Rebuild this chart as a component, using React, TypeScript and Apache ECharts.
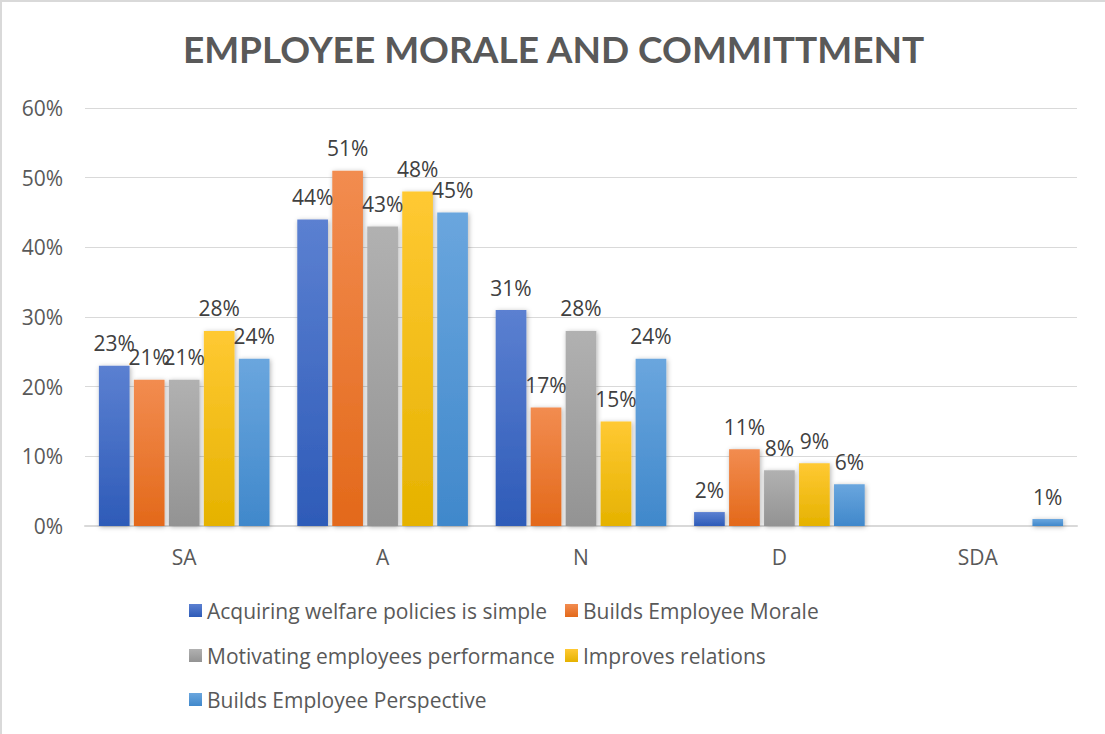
import React, { useEffect, useRef } from "react";
import * as echarts from "echarts";

const categories = ["SA", "A", "N", "D", "SDA"];
const seriesNames = [
  "Acquiring welfare policies is simple",
  "Builds Employee Morale",
  "Motivating employees performance",
  "Improves relations",
  "Builds Employee Perspective",
];
const acquiring = [23, 44, 31, 2, null];
const morale = [21, 51, 17, 11, null];
const motivating = [21, 43, 28, 8, null];
const relations = [28, 48, 15, 9, null];
const perspective = [24, 45, 24, 6, 1];
const yTicks = [0, 10, 20, 30, 40, 50, 60];

const seriesValues = [acquiring, morale, motivating, relations, perspective];
const gradients: [string, string][] = [
  ["#5b80d1", "#2e5bb8"],
  ["#f28c50", "#e3691a"],
  ["#b1b1b1", "#939393"],
  ["#ffc933", "#e5b200"],
  ["#6aa6de", "#4088cb"],
];
const legendPos = [
  { left: 187, top: 598 },
  { left: 563, top: 598 },
  { left: 187, top: 643 },
  { left: 563, top: 643 },
  { left: 187, top: 687 },
];

const FONT = "'Open Sans', sans-serif";
const TITLE_FONT = "Lato, 'Open Sans', sans-serif";

export default function App() {
  const ref = useRef<HTMLDivElement>(null);
  useEffect(() => {
    if (!ref.current) return;
    const chart = echarts.init(ref.current, undefined, { renderer: "svg" });
    chart.setOption({
      animation: false,
      backgroundColor: "#ffffff",
      title: {
        text: "EMPLOYEE MORALE AND COMMITTMENT",
        left: "center",
        top: 23,
        textStyle: { fontFamily: TITLE_FONT, fontSize: 37, fontWeight: "bold", color: "#595959" },
      },
      legend: seriesNames.map((n, i) => ({
        data: [n],
        left: legendPos[i].left,
        top: legendPos[i].top,
        padding: 0,
        icon: "rect",
        itemWidth: 13,
        itemHeight: 13,
        itemGap: 5,
        selectedMode: false,
        textStyle: { fontFamily: FONT, fontSize: 21, color: "#595959" },
      })),
      grid: { left: 83, right: 28, top: 106, bottom: 208 },
      xAxis: {
        type: "category",
        data: categories,
        axisTick: { show: false },
        axisLine: { lineStyle: { color: "#d9d9d9", width: 2 } },
        axisLabel: { margin: 20, fontFamily: FONT, fontSize: 21, color: "#595959" },
      },
      yAxis: {
        type: "value",
        min: yTicks[0],
        max: yTicks[yTicks.length - 1],
        interval: 10,
        axisLabel: { formatter: "{value}%", margin: 22, fontFamily: FONT, fontSize: 21, color: "#595959" },
        axisLine: { show: false },
        axisTick: { show: false },
        splitLine: { lineStyle: { color: "#d9d9d9", width: 1 } },
      },
      series: seriesValues.map((vals, i) => ({
        type: "bar",
        name: seriesNames[i],
        data: vals,
        barGap: "14%",
        barCategoryGap: "14%",
        itemStyle: {
          color: new echarts.graphic.LinearGradient(0, 0, 0, 1, [
            { offset: 0, color: gradients[i][0] },
            { offset: 1, color: gradients[i][1] },
          ]),
          shadowColor: "rgba(0,0,0,0.3)",
          shadowBlur: 5,
          shadowOffsetX: 1,
          shadowOffsetY: 1,
        },
        label: {
          show: true,
          position: "top",
          distance: 12,
          formatter: "{c}%",
          fontFamily: FONT,
          fontSize: 21,
          color: "#404040",
        },
      })),
    });
    return () => chart.dispose();
  }, []);
  return (
    <div
      style={{
        position: "fixed",
        left: 0,
        top: 0,
        width: 1105,
        height: 734,
        boxSizing: "border-box",
        borderTop: "2px solid #d9d9d9",
        borderLeft: "2px solid #d9d9d9",
        background: "#fff",
      }}
    >
      <div ref={ref} style={{ width: 1103, height: 732 }} />
    </div>
  );
}
